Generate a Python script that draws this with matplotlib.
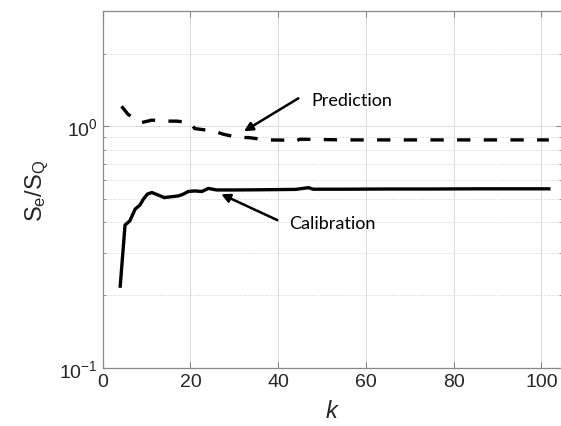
import matplotlib
matplotlib.use('Agg')
import matplotlib.pyplot as plt
from matplotlib.ticker import LogLocator, NullFormatter

# Calibration curve (solid)
k_cal = [4, 5.1, 6.2, 7.4, 8.5, 9.3, 10.2, 11.2, 12.7, 14, 17.3, 18.4, 19.5, 21,
         22.6, 24.1, 26, 30, 36, 40, 44, 46.9, 48, 55, 65, 75, 85, 95, 101.7]
s_cal = [0.218, 0.39, 0.406, 0.454, 0.472, 0.50, 0.524, 0.532, 0.519, 0.507,
         0.515, 0.524, 0.537, 0.540, 0.537, 0.553, 0.545, 0.545, 0.546, 0.547,
         0.548, 0.557, 0.549, 0.549, 0.550, 0.550, 0.551, 0.551, 0.551]

# Prediction curve (dashed)
k_pred = [4.3, 5.8, 8.9, 11.2, 14.6, 16.9, 19.9, 21, 25.2, 27.5, 30.9, 33.2,
          37.4, 42, 43.9, 45, 55, 70, 85, 101.7]
s_pred = [1.21, 1.12, 1.036, 1.06, 1.05, 1.05, 1.036, 0.978, 0.956, 0.927,
          0.898, 0.898, 0.878, 0.876, 0.867, 0.884, 0.878, 0.878, 0.878, 0.878]

x_ticks = [0, 20, 40, 60, 80, 100]

plt.rcParams['font.family'] = ['Liberation Sans', 'DejaVu Sans']
plt.rcParams['mathtext.fontset'] = 'custom'
plt.rcParams['mathtext.rm'] = 'Liberation Sans'
plt.rcParams['mathtext.it'] = 'Liberation Sans:italic'
plt.rcParams['mathtext.sf'] = 'Liberation Sans'
plt.rcParams['axes.unicode_minus'] = False

fig = plt.figure(figsize=(5.61, 4.27), dpi=100)
ax = fig.add_axes([0.183, 0.136, 0.818, 0.836])

ax.plot(k_cal, s_cal, color='black', lw=2.4, solid_joinstyle='round')
ax.plot(k_pred, s_pred, color='black', lw=2.4, dashes=(4, 4))

ax.set_yscale('log')
ax.set_ylim(0.1, 3)
ax.set_xlim(0, 104.6)
ax.set_xticks(x_ticks)
ax.yaxis.set_major_locator(LogLocator(base=10, numticks=5))
ax.yaxis.set_minor_locator(LogLocator(base=10, subs=range(2, 10), numticks=20))
ax.yaxis.set_minor_formatter(NullFormatter())

# grid like the MATLAB figure
ax.grid(True, which='major', color='#dcdcdc', lw=0.7, linestyle='-')
ax.grid(True, which='minor', axis='y', color='#cfcfcf', lw=0.7, linestyle=':')
ax.set_axisbelow(True)

for sp in ax.spines.values():
    sp.set_color('#888888')
    sp.set_linewidth(0.9)
ax.tick_params(which='both', direction='in', top=True, right=True,
               color='#888888', labelsize=14, labelcolor='#262626')
ax.tick_params(which='major', length=4)
ax.tick_params(which='minor', length=2.5)

ax.set_xlabel(r'$k$', fontsize=17, color='#262626', labelpad=7)
ax.set_ylabel(r'$\mathrm{S_e/S_Q}$', fontsize=17, color='#262626', labelpad=6)

# annotations
ax.annotate('', xy=(32.2, 0.953), xytext=(44.6, 1.305),
            arrowprops=dict(arrowstyle='-|>', color='black', lw=1.8,
                            mutation_scale=13, shrinkA=0, shrinkB=0))
ax.text(47.5, 1.284, 'Prediction', fontsize=13, family='Lato',
        ha='left', va='center')
ax.annotate('', xy=(27.0, 0.524), xytext=(39.8, 0.409),
            arrowprops=dict(arrowstyle='-|>', color='black', lw=1.8,
                            mutation_scale=13, shrinkA=0, shrinkB=0))
ax.text(42.5, 0.397, 'Calibration', fontsize=13, family='Lato',
        ha='left', va='center')

fig.savefig('out.png', dpi=100)
